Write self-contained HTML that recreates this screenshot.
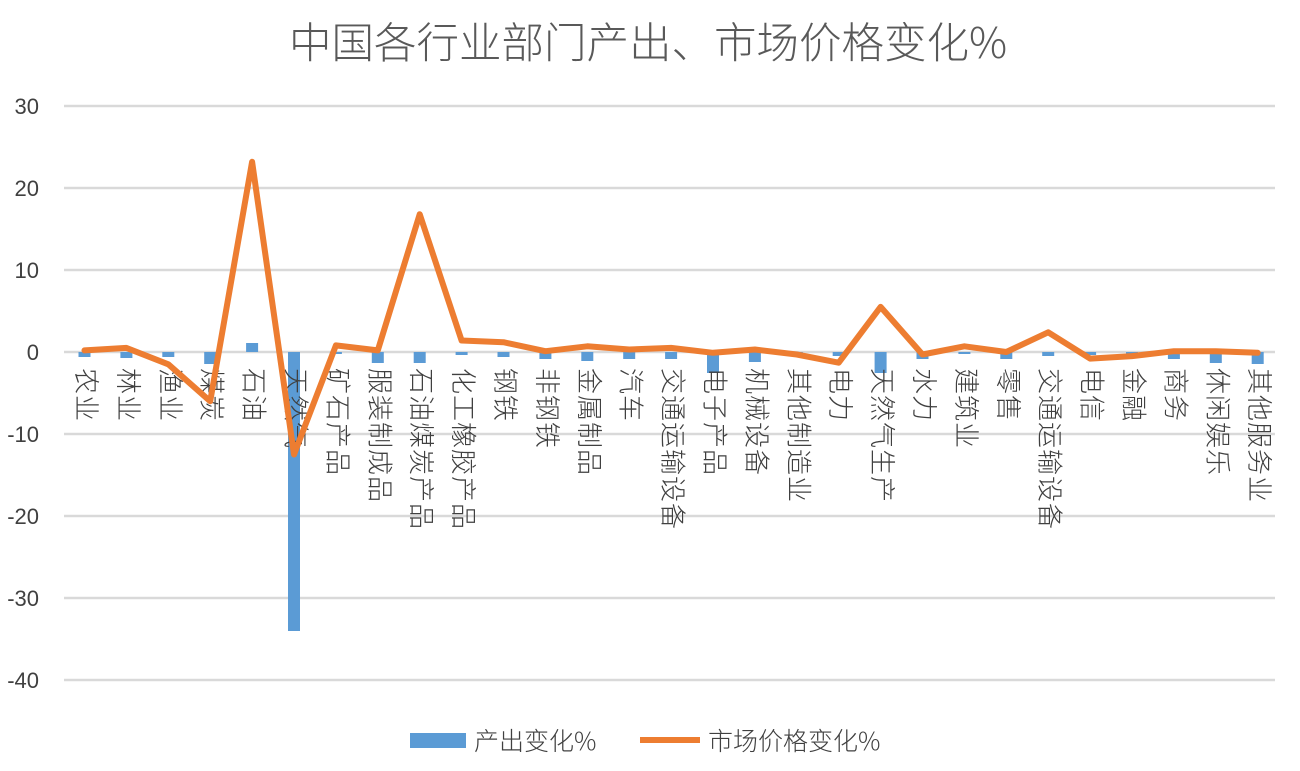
<!DOCTYPE html>
<html><head><meta charset="utf-8"><style>
body{margin:0;background:#fff;}
svg{display:block;font-family:"Liberation Sans","Noto Sans CJK SC",sans-serif;}
</style></head><body>
<svg width="1300" height="771" viewBox="0 0 1300 771" xmlns="http://www.w3.org/2000/svg">
<rect width="1300" height="771" fill="#fff"/>
<text x="648" y="58" text-anchor="middle" font-size="42.5" fill="#595959" font-family="'Noto Sans CJK SC',sans-serif" font-weight="300">中国各行业部门产出、市场价格变化%</text>
<g stroke="#d9d9d9" stroke-width="2.5">
<line x1="64" x2="1275" y1="106" y2="106"/><line x1="64" x2="1275" y1="188" y2="188"/>
<line x1="64" x2="1275" y1="270" y2="270"/><line x1="64" x2="1275" y1="352" y2="352"/>
<line x1="64" x2="1275" y1="434" y2="434"/><line x1="64" x2="1275" y1="516" y2="516"/>
<line x1="64" x2="1275" y1="598" y2="598"/><line x1="64" x2="1275" y1="680" y2="680"/>
</g>
<g font-size="22" fill="#404040" text-anchor="end">
<text x="39" y="114">30</text><text x="39" y="196">20</text><text x="39" y="278">10</text><text x="39" y="360">0</text>
<text x="39" y="442">-10</text><text x="39" y="524">-20</text><text x="39" y="606">-30</text><text x="39" y="688">-40</text>
</g>
<g fill="#5b9bd5">
<rect x="78.5" y="352" width="12" height="5"/><rect x="120.4" y="352" width="12" height="6"/>
<rect x="162.3" y="352" width="12" height="5"/><rect x="204.2" y="352" width="12" height="12"/>
<rect x="246.1" y="343" width="12" height="9"/><rect x="288" y="352" width="12" height="279"/>
<rect x="329.9" y="352" width="12" height="2"/><rect x="371.8" y="352" width="12" height="11"/>
<rect x="413.7" y="352" width="12" height="11"/><rect x="455.6" y="352" width="12" height="3"/>
<rect x="497.5" y="352" width="12" height="5"/><rect x="539.4" y="352" width="12" height="7"/>
<rect x="581.3" y="352" width="12" height="9"/><rect x="623.2" y="352" width="12" height="7"/>
<rect x="665.1" y="352" width="12" height="7"/><rect x="707" y="352" width="12" height="21"/>
<rect x="748.9" y="352" width="12" height="10"/><rect x="790.8" y="352" width="12" height="3"/>
<rect x="832.7" y="352" width="12" height="4"/><rect x="874.6" y="352" width="12" height="21"/>
<rect x="916.5" y="352" width="12" height="7"/><rect x="958.4" y="352" width="12" height="2"/>
<rect x="1000.3" y="352" width="12" height="7"/><rect x="1042.2" y="352" width="12" height="4"/>
<rect x="1084.1" y="352" width="12" height="3"/><rect x="1126" y="352" width="12" height="5"/>
<rect x="1167.9" y="352" width="12" height="7"/><rect x="1209.8" y="352" width="12" height="11"/>
<rect x="1251.7" y="352" width="12" height="12"/>
</g>
<g font-size="26" fill="#404040" letter-spacing="1" dominant-baseline="central" font-family="'Noto Sans CJK SC',sans-serif" font-weight="300">
<text transform="translate(87.5,368) rotate(90)">农业</text>
<text transform="translate(129.4,368) rotate(90)">林业</text>
<text transform="translate(171.3,368) rotate(90)">渔业</text>
<text transform="translate(213.2,368) rotate(90)">煤炭</text>
<text transform="translate(255.1,368) rotate(90)">石油</text>
<text transform="translate(297,368) rotate(90)">天然气</text>
<text transform="translate(338.9,368) rotate(90)">矿石产品</text>
<text transform="translate(380.8,368) rotate(90)">服装制成品</text>
<text transform="translate(422.7,368) rotate(90)">石油煤炭产品</text>
<text transform="translate(464.6,368) rotate(90)">化工橡胶产品</text>
<text transform="translate(506.5,368) rotate(90)">钢铁</text>
<text transform="translate(548.4,368) rotate(90)">非钢铁</text>
<text transform="translate(590.3,368) rotate(90)">金属制品</text>
<text transform="translate(632.2,368) rotate(90)">汽车</text>
<text transform="translate(674.1,368) rotate(90)">交通运输设备</text>
<text transform="translate(716,368) rotate(90)">电子产品</text>
<text transform="translate(757.9,368) rotate(90)">机械设备</text>
<text transform="translate(799.8,368) rotate(90)">其他制造业</text>
<text transform="translate(841.7,368) rotate(90)">电力</text>
<text transform="translate(883.6,368) rotate(90)">天然气生产</text>
<text transform="translate(925.5,368) rotate(90)">水力</text>
<text transform="translate(967.4,368) rotate(90)">建筑业</text>
<text transform="translate(1009.3,368) rotate(90)">零售</text>
<text transform="translate(1051.2,368) rotate(90)">交通运输设备</text>
<text transform="translate(1093.1,368) rotate(90)">电信</text>
<text transform="translate(1135,368) rotate(90)">金融</text>
<text transform="translate(1176.9,368) rotate(90)">商务</text>
<text transform="translate(1218.8,368) rotate(90)">休闲娱乐</text>
<text transform="translate(1260.7,368) rotate(90)">其他服务业</text>
</g>
<polyline fill="none" stroke="#ed7d31" stroke-width="6" stroke-linejoin="round" stroke-linecap="round"
points="84.5,350.4 126.4,347.9 168.3,364.3 210.2,401.2 252.1,161.8 294,454.5 335.9,345.4 377.8,350.4 419.7,214.2 461.6,340.5 503.5,342.2 545.4,351.2 587.3,346.3 629.2,349.5 671.1,347.9 713,352.8 754.9,349.5 796.8,354.5 838.7,362.7 880.6,306.9 922.5,354.5 964.4,346.3 1006.3,352 1048.2,332.3 1090.1,358.6 1132,356.1 1173.9,351.2 1215.8,351.2 1257.7,352.8"/>
<rect x="410" y="733" width="56" height="15" fill="#5b9bd5"/>
<text x="474" y="750" font-size="25" fill="#404040" font-family="'Noto Sans CJK SC',sans-serif" font-weight="300">产出变化%</text>
<line x1="640" x2="700" y1="740" y2="740" stroke="#ed7d31" stroke-width="6"/>
<text x="708" y="750" font-size="25" fill="#404040" font-family="'Noto Sans CJK SC',sans-serif" font-weight="300">市场价格变化%</text>
</svg>
</body></html>
